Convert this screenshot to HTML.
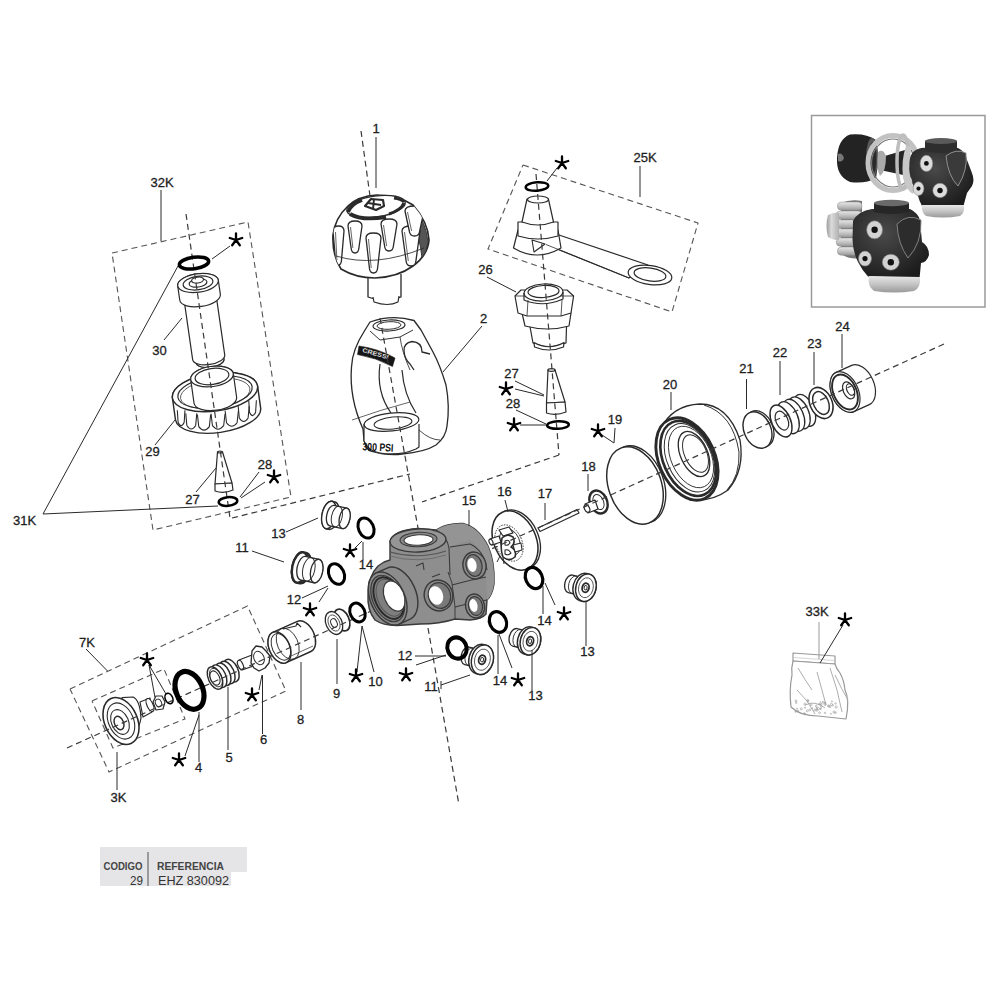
<!DOCTYPE html>
<html><head><meta charset="utf-8"><style>
html,body{margin:0;padding:0;background:#fff;width:1000px;height:1000px;overflow:hidden}
svg{position:absolute;left:0;top:0;font-family:"Liberation Sans",sans-serif}
</style></head><body>
<svg width="1000" height="1000" viewBox="0 0 1000 1000">
<path d="M112,253 L248,222 L291,497 L153,530 L112,253" fill="none" stroke="#555" stroke-width="1.1" stroke-dasharray="6 4"/>
<path d="M523,165 L698,223 L672,312 L488,249 L523,165" fill="none" stroke="#555" stroke-width="1.1" stroke-dasharray="6 4"/>
<path d="M70,689 L247.5,606 L286,691 L109,772 L70,689" fill="none" stroke="#555" stroke-width="1.1" stroke-dasharray="6 4"/>
<path d="M92,701 L164,669 L185,719 L113,748 L92,701" fill="none" stroke="#555" stroke-width="1.1" stroke-dasharray="6 4"/>
<path d="M195.36,357.02 L196.21,362.96 A6.30 14.00 81.8 0 0 223.93,358.96 L223.07,353.02 A6.30 14.00 81.8 0 0 195.36,357.02 Z" fill="#fff" stroke="#2a2a2a" stroke-width="1.20" stroke-linejoin="round" />
<ellipse cx="210.07" cy="360.96" rx="6.30" ry="14.00" transform="rotate(81.8 210.07 360.96)" fill="#fff" stroke="#2a2a2a" stroke-width="1.20" />
<path d="M183.96,299.17 L192.66,359.54 A7.29 16.20 81.8 0 0 224.73,354.92 L216.03,294.55 A7.29 16.20 81.8 0 0 183.96,299.17 Z" fill="#fff" stroke="#2a2a2a" stroke-width="1.20" stroke-linejoin="round" />
<path d="M177.71,285.92 L179.78,300.28 A9.22 20.50 81.8 0 0 220.36,294.43 L218.29,280.08 A9.22 20.50 81.8 0 0 177.71,285.92 Z" fill="#fff" stroke="#2a2a2a" stroke-width="1.20" stroke-linejoin="round" />
<ellipse cx="198.00" cy="283.00" rx="9.22" ry="20.50" transform="rotate(81.8 198.00 283.00)" fill="#fff" stroke="#2a2a2a" stroke-width="1.20" />
<ellipse cx="198.00" cy="283.00" rx="6.75" ry="15.00" transform="rotate(81.8 198.00 283.00)" fill="none" stroke="#2a2a2a" stroke-width="1.20" />
<ellipse cx="198.00" cy="283.00" rx="4.05" ry="9.00" transform="rotate(81.8 198.00 283.00)" fill="none" stroke="#2a2a2a" stroke-width="1.20" />
<ellipse cx="197.57" cy="280.03" rx="3.00" ry="6.00" transform="rotate(81.8 197.57 280.03)" fill="#fff" stroke="#2a2a2a" stroke-width="1.20" />
<path d="M172.42,397.98 L175.48,419.77 A18.92 43.00 82 0 0 260.64,407.80 L257.58,386.02 A18.92 43.00 82 0 0 172.42,397.98 Z" fill="#fff" stroke="#2a2a2a" stroke-width="1.44" stroke-linejoin="round" />
<ellipse cx="215.00" cy="392.00" rx="18.92" ry="43.00" transform="rotate(82 215.00 392.00)" fill="#fff" stroke="#2a2a2a" stroke-width="1.44" />
<ellipse cx="215.00" cy="392.00" rx="15.75" ry="37.50" transform="rotate(82 215.00 392.00)" fill="none" stroke="#2a2a2a" stroke-width="1.20" />
<ellipse cx="215.21" cy="393.49" rx="14.70" ry="35.00" transform="rotate(82 215.21 393.49)" fill="none" stroke="#2a2a2a" stroke-width="0.72" />
<path d="M248.75,400.16 L249.51,412.16 Q252.56,419.16 255.61,412.16 L256.38,400.16" fill="none" stroke="#2a2a2a" stroke-width="1.08" stroke-linejoin="round" />
<path d="M238.19,406.05 L239.30,418.05 Q243.71,425.05 248.12,418.05 L249.22,406.05" fill="none" stroke="#2a2a2a" stroke-width="1.08" stroke-linejoin="round" />
<path d="M225.15,410.74 L226.48,422.74 Q231.77,429.74 237.07,422.74 L238.39,410.74" fill="none" stroke="#2a2a2a" stroke-width="1.08" stroke-linejoin="round" />
<path d="M211.05,413.71 L212.45,425.71 Q218.05,432.71 223.65,425.71 L225.05,413.71" fill="none" stroke="#2a2a2a" stroke-width="1.08" stroke-linejoin="round" />
<path d="M197.43,414.63 L198.75,426.63 Q204.04,433.63 209.34,426.63 L210.66,414.63" fill="none" stroke="#2a2a2a" stroke-width="1.08" stroke-linejoin="round" />
<path d="M185.76,413.42 L186.86,425.42 Q191.28,432.42 195.69,425.42 L196.79,413.42" fill="none" stroke="#2a2a2a" stroke-width="1.08" stroke-linejoin="round" />
<path d="M177.33,410.19 L178.09,422.19 Q181.14,429.19 184.19,422.19 L184.95,410.19" fill="none" stroke="#2a2a2a" stroke-width="1.08" stroke-linejoin="round" />
<path d="M190.71,379.49 L194.05,403.26 A10.10 21.50 82 0 0 236.63,397.27 L233.29,373.51 A10.10 21.50 82 0 0 190.71,379.49 Z" fill="#fff" stroke="#2a2a2a" stroke-width="1.20" stroke-linejoin="round" />
<ellipse cx="212.00" cy="376.50" rx="10.10" ry="21.50" transform="rotate(82 212.00 376.50)" fill="#fff" stroke="#2a2a2a" stroke-width="1.20" />
<ellipse cx="212.00" cy="376.50" rx="7.99" ry="17.00" transform="rotate(82 212.00 376.50)" fill="#fff" stroke="#2a2a2a" stroke-width="1.20" />
<path d="M217.5,452 L222.5,452 L232,483 L215,484 Z" fill="#fff" stroke="#2a2a2a" stroke-width="1.20" stroke-linejoin="round" />
<path d="M215,484 L232,483 L233,490 Q224,494 215,491 Z" fill="#fff" stroke="#2a2a2a" stroke-width="1.20" stroke-linejoin="round" />
<ellipse cx="220.00" cy="452.00" rx="2.50" ry="1.00" transform="rotate(0 220.00 452.00)" fill="#fff" stroke="#2a2a2a" stroke-width="1.20" />
<path d="M529.5,324 L566.6,324 L566,343 Q548,350 533,343 Z" fill="#fff" stroke="#2a2a2a" stroke-width="1.20" stroke-linejoin="round" />
<path d="M534,342.5 Q549,351 564,342.5 L563.5,347 Q549,353 534.5,347 Z" fill="#fff" stroke="#2a2a2a" stroke-width="1.20" stroke-linejoin="round" />
<path d="M522,313 L571,313 L569,326 Q548,332 525,326 Z" fill="#fff" stroke="#2a2a2a" stroke-width="1.20" stroke-linejoin="round" />
<path d="M515,296 L521,290 L567,290 L573.6,296 L571,313 L561,316 L527,316 L518,313 Z" fill="#fff" stroke="#2a2a2a" stroke-width="1.20" stroke-linejoin="round" />
<line x1="515" y1="296" x2="573.6" y2="296" stroke="#2a2a2a" stroke-width="0.8" />
<line x1="527" y1="316" x2="528" y2="300" stroke="#2a2a2a" stroke-width="0.8" />
<line x1="561" y1="316" x2="562" y2="300" stroke="#2a2a2a" stroke-width="0.8" />
<ellipse cx="543.50" cy="292.50" rx="19.50" ry="8.50" transform="rotate(-3 543.50 292.50)" fill="#fff" stroke="#2a2a2a" stroke-width="1.20" />
<ellipse cx="543.50" cy="291.50" rx="15.50" ry="6.00" transform="rotate(-3 543.50 291.50)" fill="#fff" stroke="#2a2a2a" stroke-width="1.20" />
<path d="M524,293 L524,300 Q543,308 563,299 L563,292" fill="none" stroke="#2a2a2a" stroke-width="1.20" stroke-linejoin="round" />
<path d="M548,370 L555,370 L565,402 L546.5,403 Z" fill="#fff" stroke="#2a2a2a" stroke-width="1.20" stroke-linejoin="round" />
<path d="M546.5,403 L565,402 L566,412 Q556,416 546.5,413 Z" fill="#fff" stroke="#2a2a2a" stroke-width="1.20" stroke-linejoin="round" />
<ellipse cx="551.50" cy="370.00" rx="3.50" ry="1.30" transform="rotate(0 551.50 370.00)" fill="#fff" stroke="#2a2a2a" stroke-width="1.20" />
<path d="M556,234 L648,265 L629,278 L546,244.5 Z" fill="#fff" stroke="#2a2a2a" stroke-width="1.20" stroke-linejoin="round" />
<ellipse cx="650.00" cy="275.00" rx="22.00" ry="9.50" transform="rotate(8 650.00 275.00)" fill="#fff" stroke="#2a2a2a" stroke-width="1.20" />
<ellipse cx="650.00" cy="274.50" rx="16.00" ry="6.50" transform="rotate(8 650.00 274.50)" fill="#fff" stroke="#2a2a2a" stroke-width="1.20" />
<path d="M513.5,248 L518,230 L558,230 L561,248 Q537,262 513.5,248 Z" fill="#fff" stroke="#2a2a2a" stroke-width="1.20" stroke-linejoin="round" />
<path d="M518,222 L558,222 L558,236 Q538,242 518,236 Z" fill="#fff" stroke="#2a2a2a" stroke-width="1.20" stroke-linejoin="round" />
<path d="M527,199 L548.4,199 L553.5,222 Q538,228 522,222 Z" fill="#fff" stroke="#2a2a2a" stroke-width="1.20" stroke-linejoin="round" />
<ellipse cx="538.00" cy="199.50" rx="10.50" ry="3.50" transform="rotate(0 538.00 199.50)" fill="#fff" stroke="#2a2a2a" stroke-width="1.20" />
<path d="M532,240 L545,244 L534,252 Z" fill="none" stroke="#2a2a2a" stroke-width="1.08" stroke-linejoin="round" />
<line x1="546" y1="244.5" x2="629" y2="278" stroke="#2a2a2a" stroke-width="0.8" />
<path d="M660,430 Q672,405 700,404 Q728,404 740,440 Q745,470 728,490 Q712,502 690,500 L660,470 Z" fill="#fff" stroke="#2a2a2a" stroke-width="1.32" stroke-linejoin="round" />
<path d="M704,405 Q733,414 739,452 Q740,476 727,490" fill="none" stroke="#2a2a2a" stroke-width="0.96" stroke-linejoin="round" />
<ellipse cx="687.00" cy="459.00" rx="28.00" ry="43.30" transform="rotate(-24.2 687.00 459.00)" fill="#fff" stroke="#2a2a2a" stroke-width="2.88" />
<ellipse cx="688.30" cy="458.40" rx="25.00" ry="39.50" transform="rotate(-24.2 688.30 458.40)" fill="none" stroke="#2a2a2a" stroke-width="2.64" />
<ellipse cx="689.50" cy="457.80" rx="22.50" ry="36.00" transform="rotate(-24.2 689.50 457.80)" fill="none" stroke="#2a2a2a" stroke-width="0.96" />
<ellipse cx="691.00" cy="457.00" rx="20.00" ry="32.50" transform="rotate(-24.2 691.00 457.00)" fill="none" stroke="#2a2a2a" stroke-width="0.84" />
<ellipse cx="694.00" cy="454.00" rx="13.50" ry="24.00" transform="rotate(-24.2 694.00 454.00)" fill="#fff" stroke="#2a2a2a" stroke-width="1.32" />
<ellipse cx="695.50" cy="453.50" rx="11.00" ry="20.00" transform="rotate(-24.2 695.50 453.50)" fill="none" stroke="#2a2a2a" stroke-width="0.96" />
<ellipse cx="637.50" cy="484.50" rx="26.30" ry="40.00" transform="rotate(-20 637.50 484.50)" fill="#fff" stroke="#2a2a2a" stroke-width="1.32" />
<ellipse cx="635.00" cy="485.50" rx="26.30" ry="40.00" transform="rotate(-20 635.00 485.50)" fill="#fff" stroke="#2a2a2a" stroke-width="1.44" />
<ellipse cx="759.50" cy="429.00" rx="13.40" ry="19.10" transform="rotate(-24 759.50 429.00)" fill="#fff" stroke="#2a2a2a" stroke-width="1.32" />
<ellipse cx="757.50" cy="430.00" rx="13.40" ry="19.10" transform="rotate(-24 757.50 430.00)" fill="#fff" stroke="#2a2a2a" stroke-width="1.44" />
<ellipse cx="804.72" cy="410.34" rx="9.35" ry="17.00" transform="rotate(-24.2 804.72 410.34)" fill="#fff" stroke="#2a2a2a" stroke-width="1.32" />
<ellipse cx="799.24" cy="412.80" rx="9.35" ry="17.00" transform="rotate(-24.2 799.24 412.80)" fill="#fff" stroke="#2a2a2a" stroke-width="1.32" />
<ellipse cx="793.77" cy="415.26" rx="9.35" ry="17.00" transform="rotate(-24.2 793.77 415.26)" fill="#fff" stroke="#2a2a2a" stroke-width="1.32" />
<ellipse cx="788.30" cy="417.72" rx="9.35" ry="17.00" transform="rotate(-24.2 788.30 417.72)" fill="#fff" stroke="#2a2a2a" stroke-width="1.32" />
<ellipse cx="781.00" cy="421.00" rx="9.35" ry="17.00" transform="rotate(-24.2 781.00 421.00)" fill="#fff" stroke="#2a2a2a" stroke-width="1.44" />
<ellipse cx="781.91" cy="420.59" rx="6.00" ry="10.00" transform="rotate(-24.2 781.91 420.59)" fill="none" stroke="#2a2a2a" stroke-width="1.20" />
<ellipse cx="821.00" cy="403.00" rx="11.00" ry="16.30" transform="rotate(-24 821.00 403.00)" fill="#fff" stroke="#2a2a2a" stroke-width="1.56" />
<ellipse cx="821.00" cy="403.00" rx="7.50" ry="12.00" transform="rotate(-24 821.00 403.00)" fill="none" stroke="#2a2a2a" stroke-width="1.44" />
<path d="M853.81,411.61 L869.32,404.64 A13.33 21.50 -24.2 0 0 851.69,365.42 L836.19,372.39 A13.33 21.50 -24.2 0 0 853.81,411.61 Z" fill="#fff" stroke="#2a2a2a" stroke-width="1.20" stroke-linejoin="round" />
<ellipse cx="845.00" cy="392.00" rx="13.33" ry="21.50" transform="rotate(-24.2 845.00 392.00)" fill="#fff" stroke="#2a2a2a" stroke-width="1.20" />
<ellipse cx="845.00" cy="392.00" rx="11.47" ry="18.50" transform="rotate(-24.2 845.00 392.00)" fill="none" stroke="#2a2a2a" stroke-width="1.92" />
<ellipse cx="848.65" cy="390.36" rx="5.40" ry="9.00" transform="rotate(-24.2 848.65 390.36)" fill="none" stroke="#2a2a2a" stroke-width="1.20" />
<ellipse cx="850.47" cy="389.54" rx="3.60" ry="6.00" transform="rotate(-24.2 850.47 389.54)" fill="none" stroke="#2a2a2a" stroke-width="1.20" />
<ellipse cx="598.50" cy="502.00" rx="8.50" ry="12.00" transform="rotate(-24 598.50 502.00)" fill="#fff" stroke="#2a2a2a" stroke-width="2.40" />
<ellipse cx="598.50" cy="502.00" rx="5.00" ry="8.00" transform="rotate(-24 598.50 502.00)" fill="none" stroke="#2a2a2a" stroke-width="0.96" />
<path d="M585,504 L595,500 L598,509 L588,513 Z" fill="#fff" stroke="#2a2a2a" stroke-width="1.20" stroke-linejoin="round" />
<ellipse cx="587.00" cy="508.50" rx="2.50" ry="4.00" transform="rotate(-24 587.00 508.50)" fill="#fff" stroke="#2a2a2a" stroke-width="1.20" />
<path d="M538,528 L577,509.5 L579,513 L540,531.5 Z" fill="#fff" stroke="#2a2a2a" stroke-width="1.20" stroke-linejoin="round" />
<ellipse cx="517.50" cy="539.50" rx="21.00" ry="31.00" transform="rotate(-24 517.50 539.50)" fill="#fff" stroke="#2a2a2a" stroke-width="1.32" />
<ellipse cx="515.00" cy="540.50" rx="21.00" ry="31.00" transform="rotate(-24 515.00 540.50)" fill="#fff" stroke="#2a2a2a" stroke-width="1.56" />
<ellipse cx="509.00" cy="543.00" rx="13.00" ry="19.00" transform="rotate(-24 509.00 543.00)" fill="none" stroke="#2a2a2a" stroke-width="0.84" stroke-dasharray="1.5 1.2"/>
<ellipse cx="510.00" cy="542.00" rx="9.50" ry="14.00" transform="rotate(-24 510.00 542.00)" fill="none" stroke="#2a2a2a" stroke-width="0.84" />
<path d="M499,530 L509,527 L513,533 L503,536 Z" fill="#fff" stroke="#2a2a2a" stroke-width="1.20" stroke-linejoin="round" />
<path d="M490,539 L499,536 L501,542 L492,545 Z" fill="#fff" stroke="#2a2a2a" stroke-width="1.20" stroke-linejoin="round" />
<ellipse cx="491.00" cy="542.00" rx="1.80" ry="3.00" transform="rotate(-24 491.00 542.00)" fill="#fff" stroke="#2a2a2a" stroke-width="1.08" />
<path d="M502,538 Q507,533 513,537 Q516,543 511,547 Q517,550 515,557 Q509,562 503,557 Q500,550 502,538 Z" fill="#fff" stroke="#2a2a2a" stroke-width="1.56" stroke-linejoin="round" />
<path d="M505,541 Q509,539 510,543 Q508,546 505,545 Z M505,550 Q509,549 511,553 Q508,556 505,554 Z" fill="none" stroke="#2a2a2a" stroke-width="1.08" stroke-linejoin="round" />
<path d="M513,545 L521,543 L522,550 L515,552 Z" fill="#fff" stroke="#2a2a2a" stroke-width="1.08" stroke-linejoin="round" />
<line x1="500" y1="556" x2="497" y2="562" stroke="#2a2a2a" stroke-width="1" />
<line x1="503" y1="557" x2="504" y2="564" stroke="#2a2a2a" stroke-width="1" />
<path d="M326.09,528.69 L329.02,529.32 A7.00 14.00 12 0 0 334.85,501.93 L331.91,501.31 A7.00 14.00 12 0 0 326.09,528.69 Z" fill="#fff" stroke="#2a2a2a" stroke-width="1.44" stroke-linejoin="round" />
<ellipse cx="329.00" cy="515.00" rx="7.00" ry="14.00" transform="rotate(12 329.00 515.00)" fill="#fff" stroke="#2a2a2a" stroke-width="1.44" />
<path d="M329.75,525.89 L342.47,528.60 A5.25 10.50 12 0 0 346.83,508.06 L334.12,505.35 A5.25 10.50 12 0 0 329.75,525.89 Z" fill="#fff" stroke="#2a2a2a" stroke-width="1.32" stroke-linejoin="round" />
<ellipse cx="344.65" cy="518.33" rx="5.25" ry="10.50" transform="rotate(12 344.65 518.33)" fill="#fff" stroke="#2a2a2a" stroke-width="1.32" />
<line x1="339.99" y1="506.6" x2="335.62" y2="527.14" stroke="#2a2a2a" stroke-width="0.0" />
<ellipse cx="336.83" cy="516.66" rx="5.25" ry="10.50" transform="rotate(12 336.83 516.66)" fill="none" stroke="#2a2a2a" stroke-width="0.96" />
<path d="M296.78,582.66 L299.71,583.29 A7.75 15.50 12 0 0 306.16,552.96 L303.22,552.34 A7.75 15.50 12 0 0 296.78,582.66 Z" fill="#fff" stroke="#2a2a2a" stroke-width="2.40" stroke-linejoin="round" />
<ellipse cx="300.00" cy="567.50" rx="7.75" ry="15.50" transform="rotate(12 300.00 567.50)" fill="#fff" stroke="#2a2a2a" stroke-width="2.40" />
<path d="M300.44,579.86 L314.13,582.77 A6.00 12.00 12 0 0 319.12,559.30 L305.43,556.39 A6.00 12.00 12 0 0 300.44,579.86 Z" fill="#fff" stroke="#2a2a2a" stroke-width="1.32" stroke-linejoin="round" />
<ellipse cx="316.63" cy="571.03" rx="6.00" ry="12.00" transform="rotate(12 316.63 571.03)" fill="#fff" stroke="#2a2a2a" stroke-width="1.32" />
<ellipse cx="308.80" cy="569.37" rx="6.00" ry="12.00" transform="rotate(12 308.80 569.37)" fill="none" stroke="#2a2a2a" stroke-width="0.96" />
<ellipse cx="342.00" cy="620.00" rx="7.00" ry="11.50" transform="rotate(-24 342.00 620.00)" fill="#fff" stroke="#2a2a2a" stroke-width="1.68" />
<ellipse cx="334.00" cy="623.00" rx="8.00" ry="12.00" transform="rotate(-24 334.00 623.00)" fill="#fff" stroke="#2a2a2a" stroke-width="1.32" />
<ellipse cx="334.00" cy="623.00" rx="3.00" ry="4.50" transform="rotate(-24 334.00 623.00)" fill="none" stroke="#2a2a2a" stroke-width="0.96" />
<ellipse cx="334.00" cy="623.00" rx="5.50" ry="8.50" transform="rotate(-24 334.00 623.00)" fill="none" stroke="#2a2a2a" stroke-width="0.72" />
<path d="M286.26,662.55 L310.89,651.48 A10.23 16.50 -24.2 0 0 297.36,621.38 L272.74,632.45 A10.23 16.50 -24.2 0 0 286.26,662.55 Z" fill="#fff" stroke="#2a2a2a" stroke-width="1.44" stroke-linejoin="round" />
<ellipse cx="279.50" cy="647.50" rx="10.23" ry="16.50" transform="rotate(-24.2 279.50 647.50)" fill="#fff" stroke="#2a2a2a" stroke-width="1.44" />
<ellipse cx="280.87" cy="646.89" rx="8.68" ry="14.00" transform="rotate(-24.2 280.87 646.89)" fill="none" stroke="#2a2a2a" stroke-width="0.96" />
<ellipse cx="287.71" cy="643.81" rx="10.23" ry="16.50" transform="rotate(-24.2 287.71 643.81)" fill="none" stroke="#2a2a2a" stroke-width="0.84" />
<path d="M283,629 L296,626 L297,623 L301,627" fill="none" stroke="#2a2a2a" stroke-width="1.08" stroke-linejoin="round" />
<line x1="291" y1="656" x2="313" y2="646" stroke="#2a2a2a" stroke-width="0.7" />
<path d="M239,660 L252,655 L256,665 L242,670 Z" fill="#fff" stroke="#2a2a2a" stroke-width="1.20" stroke-linejoin="round" />
<ellipse cx="240.50" cy="665.00" rx="2.50" ry="5.00" transform="rotate(-24 240.50 665.00)" fill="#fff" stroke="#2a2a2a" stroke-width="1.20" />
<path d="M252,651 L256,646 L262,647 L266,651 L270,656 L269,663 L265,668 L259,671 L254,668 L251,663 Z" fill="#fff" stroke="#2a2a2a" stroke-width="1.32" stroke-linejoin="round" />
<ellipse cx="259.00" cy="658.00" rx="5.00" ry="7.00" transform="rotate(-24 259.00 658.00)" fill="none" stroke="#2a2a2a" stroke-width="0.96" />
<ellipse cx="231.42" cy="670.62" rx="6.60" ry="12.00" transform="rotate(-24.2 231.42 670.62)" fill="#fff" stroke="#2a2a2a" stroke-width="1.44" />
<ellipse cx="227.31" cy="672.47" rx="6.60" ry="12.00" transform="rotate(-24.2 227.31 672.47)" fill="#fff" stroke="#2a2a2a" stroke-width="1.44" />
<ellipse cx="223.21" cy="674.31" rx="6.60" ry="12.00" transform="rotate(-24.2 223.21 674.31)" fill="#fff" stroke="#2a2a2a" stroke-width="1.44" />
<ellipse cx="219.10" cy="676.16" rx="6.60" ry="12.00" transform="rotate(-24.2 219.10 676.16)" fill="#fff" stroke="#2a2a2a" stroke-width="1.44" />
<ellipse cx="215.00" cy="678.00" rx="6.60" ry="12.00" transform="rotate(-24.2 215.00 678.00)" fill="#fff" stroke="#2a2a2a" stroke-width="1.44" />
<ellipse cx="215.00" cy="678.00" rx="4.50" ry="7.50" transform="rotate(-24.2 215.00 678.00)" fill="none" stroke="#2a2a2a" stroke-width="1.08" />
<ellipse cx="215.91" cy="677.59" rx="5.68" ry="9.80" transform="rotate(-24.2 215.91 677.59)" fill="none" stroke="#2a2a2a" stroke-width="0.84" />
<path d="M153,702 L156,696 L162,696 L165,702 L163,709 L156,710 Z" fill="#fff" stroke="#2a2a2a" stroke-width="1.20" stroke-linejoin="round" />
<ellipse cx="158.50" cy="703.00" rx="3.00" ry="4.00" transform="rotate(-24 158.50 703.00)" fill="none" stroke="#2a2a2a" stroke-width="0.96" />
<path d="M140,702 L150,698 L152,712 L143,717 Z" fill="#fff" stroke="#2a2a2a" stroke-width="1.20" stroke-linejoin="round" />
<ellipse cx="150.00" cy="705.00" rx="3.00" ry="7.00" transform="rotate(-24 150.00 705.00)" fill="#fff" stroke="#2a2a2a" stroke-width="1.20" />
<path d="M122,697.6 L133,697 Q140,700 141,718 Q138,736 124,743 Z" fill="#fff" stroke="#2a2a2a" stroke-width="1.20" stroke-linejoin="round" />
<ellipse cx="121.00" cy="721.00" rx="16.40" ry="24.60" transform="rotate(-24 121.00 721.00)" fill="#fff" stroke="#2a2a2a" stroke-width="1.56" />
<ellipse cx="121.00" cy="721.00" rx="12.50" ry="19.00" transform="rotate(-24 121.00 721.00)" fill="none" stroke="#2a2a2a" stroke-width="1.08" />
<ellipse cx="120.00" cy="722.00" rx="8.50" ry="13.00" transform="rotate(-24 120.00 722.00)" fill="none" stroke="#2a2a2a" stroke-width="1.08" />
<ellipse cx="119.00" cy="723.00" rx="4.50" ry="7.00" transform="rotate(-24 119.00 723.00)" fill="none" stroke="#2a2a2a" stroke-width="1.44" />
<path d="M568.21,592.59 L580.82,595.73 A5.58 9.00 14 0 0 585.18,578.27 L572.56,575.12 A5.58 9.00 14 0 0 568.21,592.59 Z" fill="#fff" stroke="#2a2a2a" stroke-width="1.32" stroke-linejoin="round" />
<ellipse cx="574.27" cy="584.82" rx="5.58" ry="9.00" transform="rotate(14 574.27 584.82)" fill="none" stroke="#2a2a2a" stroke-width="0.84" />
<path d="M579.61,600.58 L582.52,601.31 A10.08 14.00 14 0 0 589.30,574.14 L586.39,573.42 A10.08 14.00 14 0 0 579.61,600.58 Z" fill="#fff" stroke="#2a2a2a" stroke-width="1.44" stroke-linejoin="round" />
<ellipse cx="585.91" cy="587.73" rx="10.08" ry="14.00" transform="rotate(14 585.91 587.73)" fill="#fff" stroke="#2a2a2a" stroke-width="1.44" />
<ellipse cx="585.91" cy="587.73" rx="7.26" ry="10.08" transform="rotate(14 585.91 587.73)" fill="none" stroke="#2a2a2a" stroke-width="0.72" />
<ellipse cx="585.61" cy="587.73" rx="3.40" ry="4.60" transform="rotate(14 585.61 587.73)" fill="#fff" stroke="#2a2a2a" stroke-width="1.80" />
<ellipse cx="585.61" cy="587.73" rx="1.50" ry="2.20" transform="rotate(14 585.61 587.73)" fill="none" stroke="#2a2a2a" stroke-width="0.96" />
<path d="M512.71,646.09 L525.32,649.23 A5.58 9.00 14 0 0 529.68,631.77 L517.06,628.62 A5.58 9.00 14 0 0 512.71,646.09 Z" fill="#fff" stroke="#2a2a2a" stroke-width="1.32" stroke-linejoin="round" />
<ellipse cx="518.77" cy="638.32" rx="5.58" ry="9.00" transform="rotate(14 518.77 638.32)" fill="none" stroke="#2a2a2a" stroke-width="0.84" />
<path d="M524.11,654.08 L527.02,654.81 A10.08 14.00 14 0 0 533.80,627.64 L530.89,626.92 A10.08 14.00 14 0 0 524.11,654.08 Z" fill="#fff" stroke="#2a2a2a" stroke-width="1.44" stroke-linejoin="round" />
<ellipse cx="530.41" cy="641.23" rx="10.08" ry="14.00" transform="rotate(14 530.41 641.23)" fill="#fff" stroke="#2a2a2a" stroke-width="1.44" />
<ellipse cx="530.41" cy="641.23" rx="7.26" ry="10.08" transform="rotate(14 530.41 641.23)" fill="none" stroke="#2a2a2a" stroke-width="0.72" />
<ellipse cx="530.11" cy="641.23" rx="3.40" ry="4.60" transform="rotate(14 530.11 641.23)" fill="#fff" stroke="#2a2a2a" stroke-width="1.80" />
<ellipse cx="530.11" cy="641.23" rx="1.50" ry="2.20" transform="rotate(14 530.11 641.23)" fill="none" stroke="#2a2a2a" stroke-width="0.96" />
<path d="M464.71,664.59 L477.32,667.73 A5.58 9.00 14 0 0 481.68,650.27 L469.06,647.12 A5.58 9.00 14 0 0 464.71,664.59 Z" fill="#fff" stroke="#2a2a2a" stroke-width="1.32" stroke-linejoin="round" />
<ellipse cx="470.77" cy="656.82" rx="5.58" ry="9.00" transform="rotate(14 470.77 656.82)" fill="none" stroke="#2a2a2a" stroke-width="0.84" />
<path d="M475.87,673.55 L478.78,674.28 A10.80 15.00 14 0 0 486.04,645.17 L483.13,644.45 A10.80 15.00 14 0 0 475.87,673.55 Z" fill="#fff" stroke="#2a2a2a" stroke-width="1.44" stroke-linejoin="round" />
<ellipse cx="482.41" cy="659.73" rx="10.80" ry="15.00" transform="rotate(14 482.41 659.73)" fill="#fff" stroke="#2a2a2a" stroke-width="1.44" />
<ellipse cx="482.41" cy="659.73" rx="7.78" ry="10.80" transform="rotate(14 482.41 659.73)" fill="none" stroke="#2a2a2a" stroke-width="0.72" />
<ellipse cx="482.11" cy="659.73" rx="3.40" ry="4.60" transform="rotate(14 482.11 659.73)" fill="#fff" stroke="#2a2a2a" stroke-width="1.80" />
<ellipse cx="482.11" cy="659.73" rx="1.50" ry="2.20" transform="rotate(14 482.11 659.73)" fill="none" stroke="#2a2a2a" stroke-width="0.96" />
<path d="M370,322 L365,330 Q352,350 351.5,367 Q349,398 363,429 L364,440 Q366,450 371,451 Q388,456 402,454 Q425,452 436,445 Q446,437 447,426 Q450,406 446,385 Q440,365 433,352 L421,330 L414,320.5 Q392,314 370,322 Z" fill="#fff" stroke="#2a2a2a" stroke-width="1.32" stroke-linejoin="round" />
<ellipse cx="389.00" cy="325.50" rx="16.00" ry="5.50" transform="rotate(-3 389.00 325.50)" fill="#fff" stroke="#2a2a2a" stroke-width="1.20" />
<ellipse cx="389.00" cy="325.50" rx="12.00" ry="3.80" transform="rotate(-3 389.00 325.50)" fill="none" stroke="#2a2a2a" stroke-width="0.96" />
<path d="M380,364 Q376,392 391,413" fill="none" stroke="#2a2a2a" stroke-width="1.20" stroke-linejoin="round" />
<path d="M402,370 Q404,395 416,413" fill="none" stroke="#2a2a2a" stroke-width="1.20" stroke-linejoin="round" />
<path d="M430,354 L422,352 Q422,342 412,341.5 Q403.5,343 404,351 Q404.5,359 410,364 L414,370" fill="none" stroke="#2a2a2a" stroke-width="1.32" stroke-linejoin="round" />
<path d="M370,331 L380,340 L400,337 L413,330" fill="none" stroke="#2a2a2a" stroke-width="0.96" stroke-linejoin="round" />
<path d="M400,337 Q402,352 410,370" fill="none" stroke="#2a2a2a" stroke-width="0.84" stroke-linejoin="round" />
<path d="M352,420 Q380,410 410,402" fill="none" stroke="#2a2a2a" stroke-width="0.72" stroke-linejoin="round" />
<path d="M364,424 L364,441 Q368,451 380,453 Q400,456 416,449 L419,447 L419,424" fill="#fff" stroke="#2a2a2a" stroke-width="1.20" stroke-linejoin="round" />
<ellipse cx="391.50" cy="422.00" rx="27.50" ry="9.00" transform="rotate(-6 391.50 422.00)" fill="#fff" stroke="#2a2a2a" stroke-width="1.20" />
<ellipse cx="393.00" cy="423.00" rx="19.00" ry="6.00" transform="rotate(-6 393.00 423.00)" fill="#fff" stroke="#2a2a2a" stroke-width="1.08" />
<path d="M419,430 Q430,440 440,440" fill="none" stroke="#2a2a2a" stroke-width="0.84" stroke-linejoin="round" />
<path d="M359,346 Q378,348.5 395,358 L392.5,366.5 Q376,357.5 357.5,354.5 Z" fill="#161616" stroke="#161616" stroke-width="0.60" stroke-linejoin="round" />
<text x="362" y="355.8" font-size="6" font-weight="bold" fill="#e0e0e0" transform="rotate(16 376 354)" textLength="27" lengthAdjust="spacingAndGlyphs">CRESSI</text>
<text x="362.5" y="451" font-size="11" font-weight="bold" fill="#111" transform="rotate(3 378 446)" textLength="31" lengthAdjust="spacingAndGlyphs">300 PSI</text>
<path d="M361,131 L370,196" fill="none" stroke="#3a3a3a" stroke-width="1.2" stroke-dasharray="6 4"/>
<path d="M376,278 L380,305" fill="none" stroke="#3a3a3a" stroke-width="1.2" stroke-dasharray="6 4"/>
<path d="M380,318 L418,528" fill="none" stroke="#3a3a3a" stroke-width="1.2" stroke-dasharray="6 4"/>
<path d="M428,628 L459,805" fill="none" stroke="#3a3a3a" stroke-width="1.2" stroke-dasharray="6 4"/>
<path d="M186,214 L230,518" fill="none" stroke="#3a3a3a" stroke-width="1.2" stroke-dasharray="6 4"/>
<path d="M232,518 L410,474" fill="none" stroke="#3a3a3a" stroke-width="1.2" stroke-dasharray="6 4"/>
<path d="M536,174 L559,455" fill="none" stroke="#3a3a3a" stroke-width="1.2" stroke-dasharray="6 4"/>
<path d="M559,455 L422,502" fill="none" stroke="#3a3a3a" stroke-width="1.2" stroke-dasharray="6 4"/>
<path d="M944,344 L487,551" fill="none" stroke="#3a3a3a" stroke-width="1.2" stroke-dasharray="6 4"/>
<path d="M67,748 L400,598" fill="none" stroke="#3a3a3a" stroke-width="1.2" stroke-dasharray="6 4"/>
<defs><clipPath id="k1c"><path d="M341,269 Q356,278 375,278 Q398,277 413,266 Q428,255 429,240 Q428,222 413,205 Q398,195 377,195 Q358,196 348,206 Q335,218 333,235 Q332,255 341,269 Z"/></clipPath></defs>
<path d="M368,276 L368,297 Q385,304 401,297 L401,274" fill="#fff" stroke="#2a2a2a" stroke-width="1.32" stroke-linejoin="round" />
<path d="M373,297 L374,302 Q388,307 398,302 L399,296" fill="#fff" stroke="#2a2a2a" stroke-width="1.20" stroke-linejoin="round" />
<path d="M341,269 Q356,278 375,278 Q398,277 413,266 Q428,255 429,240 Q428,222 413,205 Q398,195 377,195 Q358,196 348,206 Q335,218 333,235 Q332,255 341,269 Z" fill="#fff" stroke="#2a2a2a" stroke-width="1.68" stroke-linejoin="round" />
<g clip-path="url(#k1c)">
<path d="M414,208 Q426,222 428,242 Q427,252 422,258 Q420,236 410,214 Z" fill="#555" stroke="#333" stroke-width="0.96" stroke-linejoin="round" />
<path d="M348,226 Q348,221 355.0,221 Q362,221 362,226 L358.9,248 Q358.5,253 355.0,253 Q351.5,253 351.1,248 Z" fill="#fff" stroke="#2a2a2a" stroke-width="1.32" stroke-linejoin="round" />
<path d="M350.5,227 L352.9,248" fill="none" stroke="#2a2a2a" stroke-width="0.72" stroke-linejoin="round" />
<path d="M366,238 Q366,233 373.5,233 Q381,233 381,238 L377.6,268 Q377.2,273 373.5,273 Q369.8,273 369.4,268 Z" fill="#fff" stroke="#2a2a2a" stroke-width="1.32" stroke-linejoin="round" />
<path d="M368.5,239 L371.2,268" fill="none" stroke="#2a2a2a" stroke-width="0.72" stroke-linejoin="round" />
<path d="M381,224 Q381,219 389.0,219 Q397,219 397,224 L393.4,246 Q393.0,251 389.0,251 Q385.0,251 384.6,246 Z" fill="#fff" stroke="#2a2a2a" stroke-width="1.32" stroke-linejoin="round" />
<path d="M383.5,225 L386.6,246" fill="none" stroke="#2a2a2a" stroke-width="0.72" stroke-linejoin="round" />
<path d="M402,231 Q402,226 411.0,226 Q420,226 420,231 L415.9,261 Q415.5,266 411.0,266 Q406.5,266 406.1,261 Z" fill="#fff" stroke="#2a2a2a" stroke-width="1.32" stroke-linejoin="round" />
<path d="M404.5,232 L408.3,261" fill="none" stroke="#2a2a2a" stroke-width="0.72" stroke-linejoin="round" />
<path d="M333,231 Q333,226 338.5,226 Q344,226 344,231 L341.5,260 Q341.2,265 338.5,265 Q335.8,265 335.5,260 Z" fill="#fff" stroke="#2a2a2a" stroke-width="1.32" stroke-linejoin="round" />
<path d="M335.5,232 L336.9,260" fill="none" stroke="#2a2a2a" stroke-width="0.72" stroke-linejoin="round" />
<path d="M405,211 Q405,206 414.5,206 Q424,206 424,211 L419.7,231 Q419.2,236 414.5,236 Q409.8,236 409.3,231 Z" fill="#fff" stroke="#2a2a2a" stroke-width="1.32" stroke-linejoin="round" />
<path d="M407.5,212 L411.6,231" fill="none" stroke="#2a2a2a" stroke-width="0.72" stroke-linejoin="round" />
<path d="M336,256 Q375,268 424,248" fill="none" stroke="#2a2a2a" stroke-width="0.84" stroke-linejoin="round" />
</g>
<ellipse cx="376.00" cy="206.50" rx="29.50" ry="10.50" transform="rotate(-8 376.00 206.50)" fill="#fff" stroke="#2a2a2a" stroke-width="1.32" />
<path d="M348,212 Q351,204 362,200" fill="none" stroke="#2a2a2a" stroke-width="3.60" stroke-linejoin="round" />
<path d="M350,214 Q362,221 386,217" fill="none" stroke="#2a2a2a" stroke-width="3.84" stroke-linejoin="round" />
<path d="M389,214 Q401,210 404,203" fill="none" stroke="#2a2a2a" stroke-width="3.12" stroke-linejoin="round" />
<path d="M394,198 Q401,199 404,202" fill="none" stroke="#2a2a2a" stroke-width="2.88" stroke-linejoin="round" />
<path d="M365,206 L371,199 L383,200 L384,206 L376,210 Z" fill="none" stroke="#2a2a2a" stroke-width="2.16" stroke-linejoin="round" />
<path d="M368,203 L381,205 M374,199 L373,209" fill="none" stroke="#2a2a2a" stroke-width="1.92" stroke-linejoin="round" />
<path d="M368,594 Q369,575 378,566 L384,562 L390,560 L390,541 Q394,530 418,528.5 L436,530 Q446,523 463,523.5 Q478,527 488,546 Q495,562 494,584 Q492,596 487,600 L486,614 Q482,619 470,620 L455,619 Q440,624 420,624 L405,625 Q385,627 375,620 Q367,610 368,594 Z" fill="#8e8e8e" stroke="#3a3a3a" stroke-width="1.44" stroke-linejoin="round" />
<path d="M436,530 Q446,523 463,523.5 Q478,527 488,546 Q495,562 494,584 Q492,596 487,600 L486,570 Q482,548 470,540 L449,547 Q446,536 436,530 Z" fill="#949494" stroke="none" stroke-width="1.20" stroke-linejoin="round" />
<path d="M436,530 Q447,536 449,548 L450,575" fill="none" stroke="#3a3a3a" stroke-width="1.08" stroke-linejoin="round" />
<path d="M450,547 L470,544 Q484,550 487,570" fill="none" stroke="#3a3a3a" stroke-width="1.08" stroke-linejoin="round" />
<path d="M452,585 Q470,580 486,577" fill="none" stroke="#3a3a3a" stroke-width="1.08" stroke-linejoin="round" />
<path d="M455,607 Q470,603 487,600" fill="none" stroke="#3a3a3a" stroke-width="1.08" stroke-linejoin="round" />
<path d="M448,572 L452,583 L455,607 L455,619" fill="none" stroke="#3a3a3a" stroke-width="0.96" stroke-linejoin="round" />
<path d="M390,552 Q418,560 446,551" fill="none" stroke="#555" stroke-width="1.08" stroke-linejoin="round" />
<path d="M390,556 Q418,564 446,555" fill="none" stroke="#666" stroke-width="0.84" stroke-linejoin="round" />
<ellipse cx="418.00" cy="540.50" rx="28.00" ry="11.50" transform="rotate(-3 418.00 540.50)" fill="#959595" stroke="#3a3a3a" stroke-width="1.32" />
<ellipse cx="418.50" cy="539.50" rx="18.50" ry="7.20" transform="rotate(-3 418.50 539.50)" fill="#888" stroke="#3a3a3a" stroke-width="1.08" />
<ellipse cx="418.50" cy="540.00" rx="14.50" ry="5.20" transform="rotate(-3 418.50 540.00)" fill="#fff" stroke="#3a3a3a" stroke-width="1.08" />
<path d="M399.18,624.04 L410.12,619.12 A17.08 28.00 -24.2 0 0 387.17,568.04 L376.22,572.96 A17.08 28.00 -24.2 0 0 399.18,624.04 Z" fill="#8c8c8c" stroke="#3a3a3a" stroke-width="1.44" stroke-linejoin="round" />
<ellipse cx="387.70" cy="598.50" rx="17.08" ry="28.00" transform="rotate(-24.2 387.70 598.50)" fill="#8c8c8c" stroke="#3a3a3a" stroke-width="1.44" />
<ellipse cx="387.70" cy="598.50" rx="14.95" ry="24.50" transform="rotate(-24.2 387.70 598.50)" fill="#7e7e7e" stroke="#3a3a3a" stroke-width="1.20" />
<ellipse cx="388.61" cy="598.09" rx="13.42" ry="22.00" transform="rotate(-24.2 388.61 598.09)" fill="none" stroke="#2a2a2a" stroke-width="1.92" />
<ellipse cx="389.52" cy="597.68" rx="11.89" ry="19.50" transform="rotate(-24.2 389.52 597.68)" fill="none" stroke="#555" stroke-width="0.96" />
<ellipse cx="394.17" cy="596.04" rx="9.80" ry="15.80" transform="rotate(-22 394.17 596.04)" fill="#fff" stroke="#3a3a3a" stroke-width="1.20" />
<ellipse cx="438.50" cy="595.50" rx="14.20" ry="15.50" transform="rotate(-18 438.50 595.50)" fill="#8a8a8a" stroke="#3a3a3a" stroke-width="1.44" />
<ellipse cx="439.50" cy="595.50" rx="11.00" ry="13.00" transform="rotate(-18 439.50 595.50)" fill="#7a7a7a" stroke="#3a3a3a" stroke-width="1.20" />
<ellipse cx="436.00" cy="595.50" rx="7.00" ry="9.50" transform="rotate(-18 436.00 595.50)" fill="#fff" stroke="none" stroke-width="1.20" />
<ellipse cx="474.50" cy="565.50" rx="11.50" ry="13.50" transform="rotate(-12 474.50 565.50)" fill="#8a8a8a" stroke="#3a3a3a" stroke-width="1.44" />
<ellipse cx="474.00" cy="565.50" rx="8.00" ry="11.00" transform="rotate(-12 474.00 565.50)" fill="#7a7a7a" stroke="#3a3a3a" stroke-width="1.20" />
<ellipse cx="472.00" cy="565.00" rx="4.50" ry="7.00" transform="rotate(-12 472.00 565.00)" fill="#fff" stroke="none" stroke-width="1.20" />
<ellipse cx="475.00" cy="606.00" rx="9.50" ry="12.00" transform="rotate(-12 475.00 606.00)" fill="#8a8a8a" stroke="#3a3a3a" stroke-width="1.44" />
<ellipse cx="475.50" cy="606.00" rx="7.00" ry="9.50" transform="rotate(-12 475.50 606.00)" fill="#7a7a7a" stroke="#3a3a3a" stroke-width="1.20" />
<ellipse cx="473.50" cy="605.50" rx="4.00" ry="6.50" transform="rotate(-12 473.50 605.50)" fill="#fff" stroke="none" stroke-width="1.20" />
<path d="M416,566 L423,563 L424,570" fill="none" stroke="#3a3a3a" stroke-width="1.08" stroke-linejoin="round" />
<path d="M432,577 L440,574" fill="none" stroke="#3a3a3a" stroke-width="1.08" stroke-linejoin="round" />
<path d="M793,653 L835,656 L835,664 L793,661 Z" fill="#fff" stroke="#999" stroke-width="1.20" stroke-linejoin="round" />
<line x1="794" y1="657.5" x2="834" y2="660.5" stroke="#bbb" stroke-width="0.6" />
<path d="M793,661 Q791,668 792,675 Q789,690 791,707 Q800,716 818,716 L846,719 Q850,700 845,690 Q844,680 840,673 Q836,668 835,664 Z" fill="#fff" stroke="#999" stroke-width="1.20" stroke-linejoin="round" />
<path d="M798,668 Q805,680 812,690 M817,672 Q822,690 826,705 M830,668 Q838,690 842,712 M797,690 Q808,700 815,714 M835,675 Q842,690 848,700 M805,705 Q815,700 825,708" fill="none" stroke="#aaa" stroke-width="0.96" stroke-linejoin="round" />
<circle cx="805.0" cy="707.6" r="0.72" fill="none" stroke="#999" stroke-width="0.6"/><circle cx="820.4" cy="708.8" r="0.54" fill="none" stroke="#999" stroke-width="0.6"/><circle cx="795.6" cy="711.7" r="0.66" fill="none" stroke="#999" stroke-width="0.6"/><circle cx="804.8" cy="713.9" r="0.78" fill="none" stroke="#999" stroke-width="0.6"/><circle cx="830.1" cy="706.7" r="0.88" fill="none" stroke="#999" stroke-width="0.6"/><circle cx="801.3" cy="708.9" r="1.02" fill="none" stroke="#999" stroke-width="0.6"/><circle cx="817.0" cy="710.4" r="0.90" fill="none" stroke="#999" stroke-width="0.6"/><circle cx="797.7" cy="710.6" r="0.85" fill="none" stroke="#999" stroke-width="0.6"/><circle cx="807.7" cy="700.4" r="1.02" fill="none" stroke="#999" stroke-width="0.6"/><circle cx="814.9" cy="710.1" r="1.03" fill="none" stroke="#999" stroke-width="0.6"/><circle cx="825.0" cy="712.9" r="0.74" fill="none" stroke="#999" stroke-width="0.6"/><circle cx="828.6" cy="706.2" r="1.06" fill="none" stroke="#999" stroke-width="0.6"/><circle cx="831.9" cy="701.4" r="0.58" fill="none" stroke="#999" stroke-width="0.6"/><circle cx="804.1" cy="713.5" r="0.76" fill="none" stroke="#999" stroke-width="0.6"/><circle cx="821.3" cy="704.2" r="0.80" fill="none" stroke="#999" stroke-width="0.6"/><circle cx="811.2" cy="704.9" r="0.85" fill="none" stroke="#999" stroke-width="0.6"/><circle cx="819.5" cy="712.7" r="0.91" fill="none" stroke="#999" stroke-width="0.6"/><circle cx="834.0" cy="712.0" r="1.09" fill="none" stroke="#999" stroke-width="0.6"/><circle cx="823.2" cy="702.3" r="1.02" fill="none" stroke="#999" stroke-width="0.6"/><circle cx="835.5" cy="712.7" r="0.84" fill="none" stroke="#999" stroke-width="0.6"/><circle cx="825.0" cy="703.0" r="1.00" fill="none" stroke="#999" stroke-width="0.6"/><circle cx="819.1" cy="704.0" r="0.54" fill="none" stroke="#999" stroke-width="0.6"/><circle cx="830.9" cy="713.9" r="0.55" fill="none" stroke="#999" stroke-width="0.6"/><circle cx="828.6" cy="705.7" r="0.59" fill="none" stroke="#999" stroke-width="0.6"/><circle cx="807.3" cy="710.8" r="1.02" fill="none" stroke="#999" stroke-width="0.6"/><circle cx="796.9" cy="708.6" r="0.53" fill="none" stroke="#999" stroke-width="0.6"/><circle cx="825.2" cy="704.6" r="1.03" fill="none" stroke="#999" stroke-width="0.6"/><circle cx="836.2" cy="707.1" r="1.10" fill="none" stroke="#999" stroke-width="0.6"/><circle cx="808.0" cy="701.1" r="0.86" fill="none" stroke="#999" stroke-width="0.6"/><circle cx="796.3" cy="702.8" r="0.74" fill="none" stroke="#999" stroke-width="0.6"/><circle cx="820.6" cy="702.2" r="0.53" fill="none" stroke="#999" stroke-width="0.6"/><circle cx="831.4" cy="704.4" r="1.08" fill="none" stroke="#999" stroke-width="0.6"/><circle cx="832.7" cy="705.3" r="0.78" fill="none" stroke="#999" stroke-width="0.6"/><circle cx="816.8" cy="709.0" r="0.86" fill="none" stroke="#999" stroke-width="0.6"/><circle cx="818.5" cy="708.7" r="1.06" fill="none" stroke="#999" stroke-width="0.6"/><circle cx="816.3" cy="706.0" r="0.93" fill="none" stroke="#999" stroke-width="0.6"/><circle cx="805.0" cy="704.2" r="1.09" fill="none" stroke="#999" stroke-width="0.6"/><circle cx="816.9" cy="707.7" r="0.51" fill="none" stroke="#999" stroke-width="0.6"/><circle cx="812.4" cy="708.1" r="0.51" fill="none" stroke="#999" stroke-width="0.6"/><circle cx="820.9" cy="708.9" r="0.54" fill="none" stroke="#999" stroke-width="0.6"/><circle cx="821.3" cy="706.5" r="0.91" fill="none" stroke="#999" stroke-width="0.6"/><circle cx="809.8" cy="709.9" r="0.94" fill="none" stroke="#999" stroke-width="0.6"/><circle cx="795.9" cy="700.8" r="0.91" fill="none" stroke="#999" stroke-width="0.6"/><circle cx="835.5" cy="703.5" r="0.77" fill="none" stroke="#999" stroke-width="0.6"/><circle cx="819.9" cy="704.5" r="0.72" fill="none" stroke="#999" stroke-width="0.6"/>
<rect x="811.5" y="115.5" width="173.5" height="191.5" fill="#fff" stroke="#9a9a9a" stroke-width="1.5"/>
<defs>
<linearGradient id="slv" x1="0" y1="0" x2="0" y2="1"><stop offset="0" stop-color="#e8e8e8"/><stop offset="0.5" stop-color="#c4c4c4"/><stop offset="1" stop-color="#9a9a9a"/></linearGradient>
<linearGradient id="slv2" x1="0" y1="0" x2="1" y2="0"><stop offset="0" stop-color="#9c9c9c"/><stop offset="0.4" stop-color="#dadada"/><stop offset="1" stop-color="#b0b0b0"/></linearGradient>
<radialGradient id="drk" cx="0.4" cy="0.35" r="0.7"><stop offset="0" stop-color="#4a4a4a"/><stop offset="1" stop-color="#1c1c1c"/></radialGradient>
</defs>
<path d="M850,134.5 Q866,133 876,140 Q880,158 876,178 Q866,184 850,182 Q836,176 837,158 Q838,139 850,134.5 Z" fill="#232323"/>
<ellipse cx="872" cy="158" rx="6" ry="20" fill="#5a5a5a"/>
<ellipse cx="873" cy="158" rx="3.5" ry="16" fill="#2a2a2a"/>
<path d="M838,154 Q842,152 844,158 Q842,163 838,161 Z" fill="#777"/>
<ellipse cx="893" cy="163" rx="25" ry="27.5" fill="none" stroke="#c2c2c2" stroke-width="5"/>
<ellipse cx="893" cy="163" rx="21.5" ry="24" fill="none" stroke="#7a7a7a" stroke-width="1.2"/>
<path d="M878,158 L905,150 L908,176 L880,170 Z" fill="#262626"/>
<path d="M878,152 Q883,148 886,156 Q886,172 880,176 Q876,168 878,152 Z" fill="#aaa"/>
<ellipse cx="903" cy="162" rx="6" ry="27" fill="none" stroke="#bdbdbd" stroke-width="3.5"/>
<path d="M913,152 Q920,147 926,148 L958,148 Q966,152 967,160 L971.6,172 Q975,180 972,186 L967,193 Q965,200 963.5,206 L922,206 Q919,200 918,196 Q912,186 912,180 Q908,172 909.4,166 Q909,157 913,152 Z" fill="url(#drk)"/>
<path d="M925,141 Q941,137 957,141 L957,151 Q941,155 925,151 Z" fill="#2e2e2e"/>
<ellipse cx="941" cy="141" rx="16" ry="3" fill="#5a5a5a"/>
<path d="M906,146 Q901,160 903,178 Q906,190 913,194 L915,190 Q909,180 909,166 Q909,154 912,148 Z" fill="#c8c8c8"/>
<path d="M922,205 L964,205 Q965,213 960,216 Q943,219 926,216 Q921,212 922,205 Z" fill="url(#slv)"/>
<path d="M946,156 Q956,148 966,153 Q968,170 958,186 Q948,176 946,156 Z" fill="#3a3a3a" stroke="#9a9a9a" stroke-width="0.9"/>
<ellipse cx="926.4" cy="163.4" rx="6.3" ry="8.1" fill="#dcdcdc" stroke="#888" stroke-width="0.6"/>
<circle cx="926.4" cy="163.4" r="2.39" fill="#111"/>
<ellipse cx="918.5" cy="188.6" rx="5.4" ry="6.8" fill="#dcdcdc" stroke="#888" stroke-width="0.6"/>
<circle cx="918.5" cy="188.6" r="2.05" fill="#111"/>
<ellipse cx="940" cy="190.5" rx="7.2" ry="7.2" fill="#dcdcdc" stroke="#888" stroke-width="0.6"/>
<circle cx="940" cy="190.5" r="2.74" fill="#111"/>
<path d="M841,203 Q850,199 862,201 L862,258 Q850,260 841,254 Z" fill="#777"/>
<rect x="837.4" y="202" width="24.6" height="8.2" rx="4" fill="url(#slv)" stroke="#8a8a8a" stroke-width="0.5"/>
<rect x="836.2" y="211" width="25.8" height="8.2" rx="4" fill="url(#slv)" stroke="#8a8a8a" stroke-width="0.5"/>
<rect x="835.6" y="220" width="26.4" height="8.2" rx="4" fill="url(#slv)" stroke="#8a8a8a" stroke-width="0.5"/>
<rect x="835.6" y="229" width="26.4" height="8.2" rx="4" fill="url(#slv)" stroke="#8a8a8a" stroke-width="0.5"/>
<rect x="836.2" y="238" width="25.8" height="8.2" rx="4" fill="url(#slv)" stroke="#8a8a8a" stroke-width="0.5"/>
<rect x="837.4" y="247" width="24.6" height="8.2" rx="4" fill="url(#slv)" stroke="#8a8a8a" stroke-width="0.5"/>
<path d="M828,215 Q834,212 839,213 L839,240 Q834,241 828,237 Q825,226 828,215 Z" fill="url(#slv2)"/>
<path d="M853,221 Q858,211 872,209 L910,209 Q918,213 920,220 L922,242 Q929,246 929,255 Q927,262 921,263 L919.6,277.8 L868,276.6 Q862,270 858,262 Q853,252 852.5,240 Z" fill="url(#drk)"/>
<path d="M874,203 Q891,199 909,203 L909,212 Q891,216 874,212 Z" fill="#262626"/>
<ellipse cx="891.5" cy="203" rx="17.5" ry="3.2" fill="#6a6a6a"/>
<path d="M869,276 L920,277 Q921,288 914,291 Q894,294 874,291 Q867,286 869,276 Z" fill="url(#slv)"/>
<path d="M897,224 Q908,213 921,220 Q922,243 908,258 Q898,244 897,224 Z" fill="#2c2c2c" stroke="#8a8a8a" stroke-width="0.9"/>
<ellipse cx="874.6" cy="229.8" rx="8" ry="9" fill="#d2d2d2" stroke="#777" stroke-width="0.6"/>
<circle cx="874.6" cy="229.8" r="3.20" fill="#111"/>
<ellipse cx="865" cy="258.6" rx="6.5" ry="7.5" fill="#d2d2d2" stroke="#777" stroke-width="0.6"/>
<circle cx="865" cy="258.6" r="2.60" fill="#111"/>
<ellipse cx="890.8" cy="262.2" rx="8.5" ry="8" fill="#d2d2d2" stroke="#777" stroke-width="0.6"/>
<circle cx="890.8" cy="262.2" r="3.20" fill="#111"/>
<line x1="376" y1="137" x2="376" y2="188" stroke="#2a2a2a" stroke-width="1" />
<line x1="482" y1="326" x2="443" y2="372" stroke="#2a2a2a" stroke-width="1" />
<line x1="161" y1="190" x2="161" y2="241" stroke="#2a2a2a" stroke-width="1" />
<line x1="164" y1="340" x2="182" y2="318" stroke="#2a2a2a" stroke-width="1" />
<line x1="155" y1="445" x2="175" y2="420" stroke="#2a2a2a" stroke-width="1" />
<line x1="196" y1="492" x2="216" y2="468" stroke="#2a2a2a" stroke-width="1" />
<line x1="259" y1="472" x2="240" y2="497" stroke="#2a2a2a" stroke-width="1" />
<line x1="265" y1="482" x2="241" y2="498" stroke="#2a2a2a" stroke-width="1" />
<line x1="43" y1="514" x2="178" y2="266" stroke="#2a2a2a" stroke-width="1" />
<line x1="43" y1="514" x2="218" y2="506" stroke="#2a2a2a" stroke-width="1" />
<line x1="149" y1="665" x2="155" y2="697.5" stroke="#2a2a2a" stroke-width="1" />
<line x1="149" y1="665" x2="166" y2="694" stroke="#2a2a2a" stroke-width="1" />
<line x1="212" y1="259" x2="230" y2="246" stroke="#2a2a2a" stroke-width="1" />
<line x1="640" y1="166" x2="640" y2="197" stroke="#2a2a2a" stroke-width="1" />
<line x1="547" y1="181" x2="557" y2="168" stroke="#2a2a2a" stroke-width="1" />
<line x1="487" y1="277" x2="516" y2="292" stroke="#2a2a2a" stroke-width="1" />
<line x1="515" y1="381" x2="544" y2="395" stroke="#2a2a2a" stroke-width="1" />
<line x1="515" y1="389" x2="544" y2="396" stroke="#2a2a2a" stroke-width="1" />
<line x1="516" y1="410" x2="546" y2="424" stroke="#2a2a2a" stroke-width="1" />
<line x1="520" y1="425" x2="546" y2="425" stroke="#2a2a2a" stroke-width="1" />
<line x1="602" y1="435" x2="614" y2="443" stroke="#2a2a2a" stroke-width="1" />
<line x1="615" y1="428" x2="614" y2="443" stroke="#2a2a2a" stroke-width="1" />
<line x1="671" y1="392" x2="671" y2="410" stroke="#2a2a2a" stroke-width="1" />
<line x1="746.5" y1="379" x2="746.5" y2="409" stroke="#2a2a2a" stroke-width="1" />
<line x1="780" y1="361" x2="780" y2="395" stroke="#2a2a2a" stroke-width="1" />
<line x1="814" y1="352" x2="814" y2="385" stroke="#2a2a2a" stroke-width="1" />
<line x1="842" y1="334" x2="842" y2="368" stroke="#2a2a2a" stroke-width="1" />
<line x1="588" y1="474" x2="588" y2="491" stroke="#2a2a2a" stroke-width="1" />
<line x1="545" y1="503" x2="545" y2="520" stroke="#2a2a2a" stroke-width="1" />
<line x1="505" y1="500" x2="508" y2="512" stroke="#2a2a2a" stroke-width="1" />
<line x1="469" y1="510" x2="469" y2="526" stroke="#2a2a2a" stroke-width="1" />
<line x1="286" y1="532" x2="318" y2="518" stroke="#2a2a2a" stroke-width="1" />
<line x1="252" y1="551" x2="284" y2="562" stroke="#2a2a2a" stroke-width="1" />
<line x1="363" y1="542" x2="363" y2="560" stroke="#2a2a2a" stroke-width="1" />
<line x1="355" y1="548" x2="362" y2="541" stroke="#2a2a2a" stroke-width="1" />
<line x1="302" y1="598" x2="328" y2="586" stroke="#2a2a2a" stroke-width="1" />
<line x1="319" y1="602" x2="328" y2="588" stroke="#2a2a2a" stroke-width="1" />
<line x1="337" y1="639" x2="337" y2="684" stroke="#2a2a2a" stroke-width="1" />
<line x1="362" y1="626" x2="357" y2="672" stroke="#2a2a2a" stroke-width="1" />
<line x1="362" y1="626" x2="374" y2="672" stroke="#2a2a2a" stroke-width="1" />
<line x1="301" y1="662" x2="301" y2="710" stroke="#2a2a2a" stroke-width="1" />
<line x1="415" y1="656" x2="446" y2="656" stroke="#2a2a2a" stroke-width="1" />
<line x1="416" y1="665" x2="446" y2="655" stroke="#2a2a2a" stroke-width="1" />
<line x1="441" y1="685" x2="470" y2="675" stroke="#2a2a2a" stroke-width="1" />
<line x1="441" y1="681" x2="441" y2="689" stroke="#2a2a2a" stroke-width="1" />
<line x1="543" y1="586" x2="543" y2="614" stroke="#2a2a2a" stroke-width="1" />
<line x1="545" y1="583" x2="555" y2="605" stroke="#2a2a2a" stroke-width="1" />
<line x1="586" y1="601" x2="586" y2="646" stroke="#2a2a2a" stroke-width="1" />
<line x1="498" y1="635" x2="498" y2="674" stroke="#2a2a2a" stroke-width="1" />
<line x1="499" y1="634" x2="512" y2="668" stroke="#2a2a2a" stroke-width="1" />
<line x1="532" y1="650" x2="532" y2="691" stroke="#2a2a2a" stroke-width="1" />
<line x1="86" y1="649" x2="107.5" y2="671" stroke="#2a2a2a" stroke-width="1" />
<line x1="117" y1="752" x2="117" y2="790" stroke="#2a2a2a" stroke-width="1" />
<line x1="199" y1="712" x2="199" y2="762" stroke="#2a2a2a" stroke-width="1" />
<line x1="185" y1="756" x2="199" y2="715" stroke="#2a2a2a" stroke-width="1" />
<line x1="228" y1="687" x2="228" y2="750" stroke="#2a2a2a" stroke-width="1" />
<line x1="262.5" y1="675" x2="262.5" y2="734" stroke="#2a2a2a" stroke-width="1" />
<line x1="259" y1="690" x2="262" y2="675" stroke="#2a2a2a" stroke-width="1" />
<line x1="843" y1="625" x2="820" y2="663" stroke="#2a2a2a" stroke-width="1" />
<line x1="819" y1="622" x2="819" y2="659" stroke="#999" stroke-width="1" />
<text x="376" y="133" font-size="13" text-anchor="middle" font-weight="normal" fill="#1e1e1e" stroke="#1e1e1e" stroke-width="0.3">1</text>
<text x="483.5" y="323" font-size="13" text-anchor="middle" font-weight="normal" fill="#1e1e1e" stroke="#1e1e1e" stroke-width="0.3">2</text>
<text x="162" y="187" font-size="13" text-anchor="middle" font-weight="normal" fill="#1e1e1e" stroke="#1e1e1e" stroke-width="0.3">32K</text>
<text x="159.5" y="355" font-size="13" text-anchor="middle" font-weight="normal" fill="#1e1e1e" stroke="#1e1e1e" stroke-width="0.3">30</text>
<text x="152.5" y="456" font-size="13" text-anchor="middle" font-weight="normal" fill="#1e1e1e" stroke="#1e1e1e" stroke-width="0.3">29</text>
<text x="192.5" y="504" font-size="13" text-anchor="middle" font-weight="normal" fill="#1e1e1e" stroke="#1e1e1e" stroke-width="0.3">27</text>
<text x="265" y="469" font-size="13" text-anchor="middle" font-weight="normal" fill="#1e1e1e" stroke="#1e1e1e" stroke-width="0.3">28</text>
<text x="24.5" y="525" font-size="13" text-anchor="middle" font-weight="normal" fill="#1e1e1e" stroke="#1e1e1e" stroke-width="0.3">31K</text>
<text x="645" y="162" font-size="13" text-anchor="middle" font-weight="normal" fill="#1e1e1e" stroke="#1e1e1e" stroke-width="0.3">25K</text>
<text x="485.5" y="274" font-size="13" text-anchor="middle" font-weight="normal" fill="#1e1e1e" stroke="#1e1e1e" stroke-width="0.3">26</text>
<text x="511.5" y="378" font-size="13" text-anchor="middle" font-weight="normal" fill="#1e1e1e" stroke="#1e1e1e" stroke-width="0.3">27</text>
<text x="513" y="408" font-size="13" text-anchor="middle" font-weight="normal" fill="#1e1e1e" stroke="#1e1e1e" stroke-width="0.3">28</text>
<text x="670" y="389" font-size="13" text-anchor="middle" font-weight="normal" fill="#1e1e1e" stroke="#1e1e1e" stroke-width="0.3">20</text>
<text x="615" y="424" font-size="13" text-anchor="middle" font-weight="normal" fill="#1e1e1e" stroke="#1e1e1e" stroke-width="0.3">19</text>
<text x="746.5" y="373" font-size="13" text-anchor="middle" font-weight="normal" fill="#1e1e1e" stroke="#1e1e1e" stroke-width="0.3">21</text>
<text x="780" y="357" font-size="13" text-anchor="middle" font-weight="normal" fill="#1e1e1e" stroke="#1e1e1e" stroke-width="0.3">22</text>
<text x="814.5" y="348" font-size="13" text-anchor="middle" font-weight="normal" fill="#1e1e1e" stroke="#1e1e1e" stroke-width="0.3">23</text>
<text x="842.5" y="331" font-size="13" text-anchor="middle" font-weight="normal" fill="#1e1e1e" stroke="#1e1e1e" stroke-width="0.3">24</text>
<text x="588.5" y="471" font-size="13" text-anchor="middle" font-weight="normal" fill="#1e1e1e" stroke="#1e1e1e" stroke-width="0.3">18</text>
<text x="545" y="498" font-size="13" text-anchor="middle" font-weight="normal" fill="#1e1e1e" stroke="#1e1e1e" stroke-width="0.3">17</text>
<text x="504.5" y="496" font-size="13" text-anchor="middle" font-weight="normal" fill="#1e1e1e" stroke="#1e1e1e" stroke-width="0.3">16</text>
<text x="469" y="505" font-size="13" text-anchor="middle" font-weight="normal" fill="#1e1e1e" stroke="#1e1e1e" stroke-width="0.3">15</text>
<text x="278.5" y="538" font-size="13" text-anchor="middle" font-weight="normal" fill="#1e1e1e" stroke="#1e1e1e" stroke-width="0.3">13</text>
<text x="242" y="552" font-size="13" text-anchor="middle" font-weight="normal" fill="#1e1e1e" stroke="#1e1e1e" stroke-width="0.3">11</text>
<text x="366" y="569" font-size="13" text-anchor="middle" font-weight="normal" fill="#1e1e1e" stroke="#1e1e1e" stroke-width="0.3">14</text>
<text x="294" y="604" font-size="13" text-anchor="middle" font-weight="normal" fill="#1e1e1e" stroke="#1e1e1e" stroke-width="0.3">12</text>
<text x="375.5" y="686" font-size="13" text-anchor="middle" font-weight="normal" fill="#1e1e1e" stroke="#1e1e1e" stroke-width="0.3">10</text>
<text x="336.5" y="698" font-size="13" text-anchor="middle" font-weight="normal" fill="#1e1e1e" stroke="#1e1e1e" stroke-width="0.3">9</text>
<text x="300.5" y="724" font-size="13" text-anchor="middle" font-weight="normal" fill="#1e1e1e" stroke="#1e1e1e" stroke-width="0.3">8</text>
<text x="405" y="660" font-size="13" text-anchor="middle" font-weight="normal" fill="#1e1e1e" stroke="#1e1e1e" stroke-width="0.3">12</text>
<text x="431" y="691" font-size="13" text-anchor="middle" font-weight="normal" fill="#1e1e1e" stroke="#1e1e1e" stroke-width="0.3">11</text>
<text x="544.5" y="625" font-size="13" text-anchor="middle" font-weight="normal" fill="#1e1e1e" stroke="#1e1e1e" stroke-width="0.3">14</text>
<text x="587.5" y="656" font-size="13" text-anchor="middle" font-weight="normal" fill="#1e1e1e" stroke="#1e1e1e" stroke-width="0.3">13</text>
<text x="500" y="685" font-size="13" text-anchor="middle" font-weight="normal" fill="#1e1e1e" stroke="#1e1e1e" stroke-width="0.3">14</text>
<text x="535.5" y="700" font-size="13" text-anchor="middle" font-weight="normal" fill="#1e1e1e" stroke="#1e1e1e" stroke-width="0.3">13</text>
<text x="87" y="647" font-size="13" text-anchor="middle" font-weight="normal" fill="#1e1e1e" stroke="#1e1e1e" stroke-width="0.3">7K</text>
<text x="118.5" y="802" font-size="13" text-anchor="middle" font-weight="normal" fill="#1e1e1e" stroke="#1e1e1e" stroke-width="0.3">3K</text>
<text x="198.5" y="772" font-size="13" text-anchor="middle" font-weight="normal" fill="#1e1e1e" stroke="#1e1e1e" stroke-width="0.3">4</text>
<text x="229" y="762" font-size="13" text-anchor="middle" font-weight="normal" fill="#1e1e1e" stroke="#1e1e1e" stroke-width="0.3">5</text>
<text x="263.5" y="744" font-size="13" text-anchor="middle" font-weight="normal" fill="#1e1e1e" stroke="#1e1e1e" stroke-width="0.3">6</text>
<text x="817" y="616" font-size="13" text-anchor="middle" font-weight="normal" fill="#1e1e1e" stroke="#1e1e1e" stroke-width="0.3">33K</text>
<ellipse cx="194" cy="263" rx="14.8" ry="5.8" transform="rotate(-8 194 263)" fill="none" stroke="#000" stroke-width="3.5"/>
<ellipse cx="228" cy="501.5" rx="9.3" ry="4.3" transform="rotate(-6 228 501.5)" fill="none" stroke="#000" stroke-width="2.5"/>
<ellipse cx="537" cy="186.5" rx="11.3" ry="4.3" transform="rotate(-4 537 186.5)" fill="none" stroke="#000" stroke-width="2.5"/>
<ellipse cx="558" cy="425" rx="10.8" ry="3.8" transform="rotate(-2 558 425)" fill="none" stroke="#000" stroke-width="2.5"/>
<ellipse cx="366" cy="528" rx="7.5" ry="10.5" transform="rotate(-24 366 528)" fill="none" stroke="#000" stroke-width="3"/>
<ellipse cx="336.5" cy="574" rx="7.5" ry="10.8" transform="rotate(-24 336.5 574)" fill="none" stroke="#000" stroke-width="3"/>
<ellipse cx="357.5" cy="612.5" rx="7.3" ry="9.8" transform="rotate(-24 357.5 612.5)" fill="none" stroke="#000" stroke-width="3"/>
<ellipse cx="457" cy="648" rx="9.5" ry="10.8" transform="rotate(-24 457 648)" fill="none" stroke="#000" stroke-width="4"/>
<ellipse cx="534" cy="578" rx="8.3" ry="11" transform="rotate(-24 534 578)" fill="none" stroke="#000" stroke-width="3.2"/>
<ellipse cx="498" cy="622" rx="8.3" ry="10.6" transform="rotate(-24 498 622)" fill="none" stroke="#000" stroke-width="3.2"/>
<ellipse cx="189.5" cy="690.4" rx="13.2" ry="19.8" transform="rotate(-24 189.5 690.4)" fill="none" stroke="#000" stroke-width="5.2"/>
<ellipse cx="169" cy="698.5" rx="3.7" ry="5.5" transform="rotate(-24 169 698.5)" fill="none" stroke="#000" stroke-width="1.6"/>
<path d="M236,240 L236.00,233.50 M236,240 L242.18,237.99 M236,240 L239.82,245.26 M236,240 L232.18,245.26 M236,240 L229.82,237.99 " stroke="#000" stroke-width="2.3" stroke-linecap="round" fill="none"/>
<path d="M274,477 L274.00,470.50 M274,477 L280.18,474.99 M274,477 L277.82,482.26 M274,477 L270.18,482.26 M274,477 L267.82,474.99 " stroke="#000" stroke-width="2.3" stroke-linecap="round" fill="none"/>
<path d="M562,163 L562.00,156.50 M562,163 L568.18,160.99 M562,163 L565.82,168.26 M562,163 L558.18,168.26 M562,163 L555.82,160.99 " stroke="#000" stroke-width="2.3" stroke-linecap="round" fill="none"/>
<path d="M506,389 L506.00,382.50 M506,389 L512.18,386.99 M506,389 L509.82,394.26 M506,389 L502.18,394.26 M506,389 L499.82,386.99 " stroke="#000" stroke-width="2.3" stroke-linecap="round" fill="none"/>
<path d="M514,425 L514.00,418.50 M514,425 L520.18,422.99 M514,425 L517.82,430.26 M514,425 L510.18,430.26 M514,425 L507.82,422.99 " stroke="#000" stroke-width="2.3" stroke-linecap="round" fill="none"/>
<path d="M598,431 L598.00,424.50 M598,431 L604.18,428.99 M598,431 L601.82,436.26 M598,431 L594.18,436.26 M598,431 L591.82,428.99 " stroke="#000" stroke-width="2.3" stroke-linecap="round" fill="none"/>
<path d="M350,551 L350.00,544.50 M350,551 L356.18,548.99 M350,551 L353.82,556.26 M350,551 L346.18,556.26 M350,551 L343.82,548.99 " stroke="#000" stroke-width="2.3" stroke-linecap="round" fill="none"/>
<path d="M310,610 L310.00,603.50 M310,610 L316.18,607.99 M310,610 L313.82,615.26 M310,610 L306.18,615.26 M310,610 L303.82,607.99 " stroke="#000" stroke-width="2.3" stroke-linecap="round" fill="none"/>
<path d="M356,676 L356.00,669.50 M356,676 L362.18,673.99 M356,676 L359.82,681.26 M356,676 L352.18,681.26 M356,676 L349.82,673.99 " stroke="#000" stroke-width="2.3" stroke-linecap="round" fill="none"/>
<path d="M406,675 L406.00,668.50 M406,675 L412.18,672.99 M406,675 L409.82,680.26 M406,675 L402.18,680.26 M406,675 L399.82,672.99 " stroke="#000" stroke-width="2.3" stroke-linecap="round" fill="none"/>
<path d="M564,614 L564.00,607.50 M564,614 L570.18,611.99 M564,614 L567.82,619.26 M564,614 L560.18,619.26 M564,614 L557.82,611.99 " stroke="#000" stroke-width="2.3" stroke-linecap="round" fill="none"/>
<path d="M518,680 L518.00,673.50 M518,680 L524.18,677.99 M518,680 L521.82,685.26 M518,680 L514.18,685.26 M518,680 L511.82,677.99 " stroke="#000" stroke-width="2.3" stroke-linecap="round" fill="none"/>
<path d="M147,660 L147.00,653.50 M147,660 L153.18,657.99 M147,660 L150.82,665.26 M147,660 L143.18,665.26 M147,660 L140.82,657.99 " stroke="#000" stroke-width="2.3" stroke-linecap="round" fill="none"/>
<path d="M179,760 L179.00,753.50 M179,760 L185.18,757.99 M179,760 L182.82,765.26 M179,760 L175.18,765.26 M179,760 L172.82,757.99 " stroke="#000" stroke-width="2.3" stroke-linecap="round" fill="none"/>
<path d="M252,695 L252.00,688.50 M252,695 L258.18,692.99 M252,695 L255.82,700.26 M252,695 L248.18,700.26 M252,695 L245.82,692.99 " stroke="#000" stroke-width="2.3" stroke-linecap="round" fill="none"/>
<path d="M845,620 L845.00,613.50 M845,620 L851.18,617.99 M845,620 L848.82,625.26 M845,620 L841.18,625.26 M845,620 L838.82,617.99 " stroke="#000" stroke-width="2.3" stroke-linecap="round" fill="none"/>
<path d="M100,847 L247,847 L247,872 L231,872 L231,886 L100,886 Z" fill="#e5e5e7"/>
<rect x="147" y="852" width="2" height="34" fill="#9a9a9a"/>
<text x="103.5" y="870" font-size="11" font-weight="bold" fill="#444" textLength="39" lengthAdjust="spacingAndGlyphs">CODIGO</text>
<text x="157" y="870" font-size="11" font-weight="bold" fill="#444" textLength="67" lengthAdjust="spacingAndGlyphs">REFERENCIA</text>
<text x="143" y="885" font-size="12" fill="#333" text-anchor="end" textLength="13" lengthAdjust="spacingAndGlyphs">29</text>
<text x="158" y="885" font-size="12" fill="#333" textLength="71" lengthAdjust="spacingAndGlyphs">EHZ 830092</text>
</svg>
</body></html>
